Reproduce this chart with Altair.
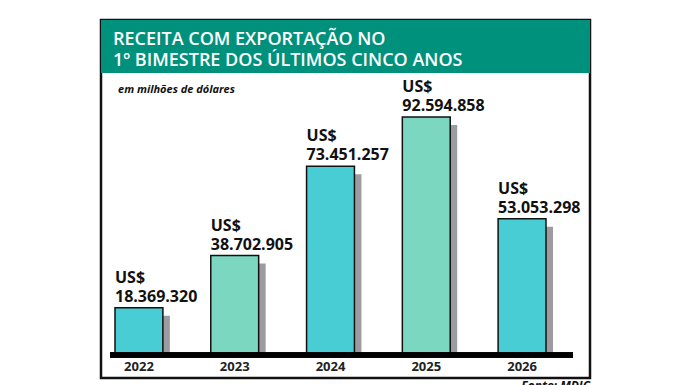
import altair as alt
import pandas as pd

years = ["2022", "2023", "2024", "2025", "2026"]
values = [18369320, 38702905, 73451257, 92594858, 53053298]
labels = ["18.369.320", "38.702.905", "73.451.257", "92.594.858", "53.053.298"]
colors = ["#48CDD4", "#7BD7BF", "#48CDD4", "#7BD7BF", "#48CDD4"]

title_lines = "RECEITA COM EXPORTAÇÃO NO\n1º BIMESTRE DOS ÚLTIMOS CINCO ANOS"
subtitle = "em milhões de dólares"
source = "Fonte: MDIC"

df = pd.DataFrame({
    "year": years,
    "val": [v / 1e6 for v in values],
    "label": ["US$\n" + l for l in labels],
    "color": colors,
})

W, H = 489, 358
xscale = alt.Scale(range=[14, 445], paddingInner=0.5, paddingOuter=0)
x = alt.X("year:N", scale=xscale, axis=None)
y = alt.Y("val:Q", scale=alt.Scale(domain=[0, max(values) / 1e6], range=[335, 97], nice=False, zero=True), axis=None)

base = alt.Chart(df)

shadow = base.mark_bar(color="#9C9CA0", xOffset=7, yOffset=8).encode(x=x, y=y, y2=alt.datum(0))
bars = base.mark_bar(stroke="#111111", strokeWidth=1.5).encode(
    x=x, y=y, y2=alt.datum(0), color=alt.Color("color:N", scale=None)
)
vlabels = base.mark_text(
    align="left", baseline="bottom", dy=-22, fontSize=16, fontWeight="bold",
    font="Open Sans", lineBreak="\n", lineHeight=19, color="#111111"
).encode(x=alt.X("year:N", bandPosition=0, scale=xscale, axis=None),
         y=y, text="label:N")
ylabels = base.mark_text(
    baseline="middle", fontSize=13, fontWeight="bold", font="Open Sans", color="#222222"
).encode(x=x, y=alt.value(347), text="year:N")

baseline = base.mark_rule(color="#000000", strokeWidth=5).encode(
    x=alt.value(9), x2=alt.value(472), y=alt.value(335)
)

one = alt.Chart(pd.DataFrame({"t": [title_lines], "s": [subtitle], "f": [source]}))
header = one.mark_rect(color="#00917D").encode(
    x=alt.value(0), x2=alt.value(W), y=alt.value(0), y2=alt.value(53)
)
title = one.mark_text(
    align="left", baseline="alphabetic", fontSize=18, fontWeight=600, font="Open Sans",
    color="white", lineBreak="\n", lineHeight=21
).encode(x=alt.value(12), y=alt.value(25), text="t:N")
sub = one.mark_text(
    align="left", baseline="alphabetic", fontSize=11, fontWeight="bold", fontStyle="italic",
    font="Open Sans", color="#111111"
).encode(x=alt.value(17), y=alt.value(73), text="s:N")
src = one.mark_text(
    align="right", baseline="top", fontSize=12, fontWeight="bold", fontStyle="italic",
    font="Open Sans", color="#111111"
).encode(x=alt.value(W), y=alt.value(361), text="f:N")

chart = alt.layer(header, title, sub, shadow, bars, baseline, vlabels, ylabels, src).properties(
    width=W, height=H,
    padding={"left": 93, "top": 12, "right": 10, "bottom": 10},
    autosize=alt.AutoSizeParams(type="none"),
    background="white",
).configure_view(stroke="#111111", strokeWidth=2.5)

chart.save("out.html", embed_options={"renderer": "svg", "actions": False})
